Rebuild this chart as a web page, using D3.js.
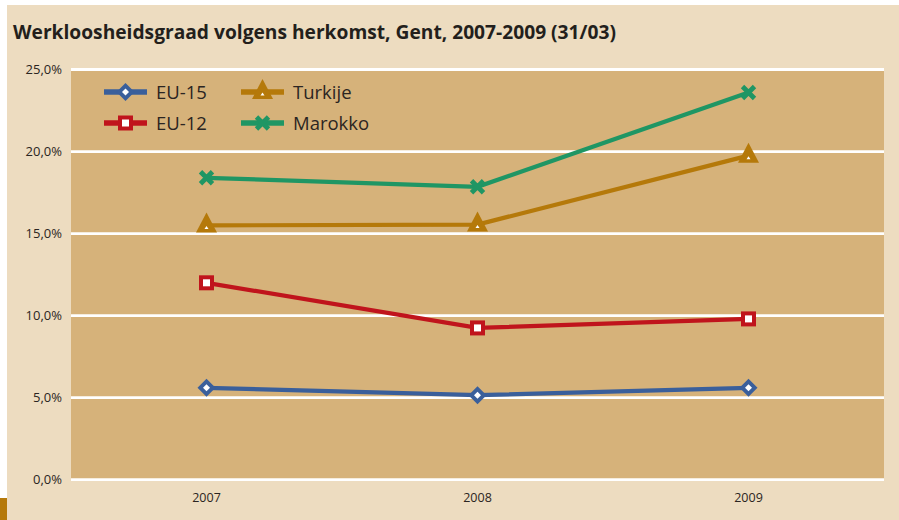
<!DOCTYPE html>
<html>
<head>
<meta charset="utf-8">
<script src="https://cdn.jsdelivr.net/npm/d3@7"></script>
<style>
  html, body { margin: 0; padding: 0; background: #fff; }
  svg { display: block; }
  text { font-family: "Open Sans", "Noto Sans", sans-serif; fill: #2b2522; }
</style>
</head>
<body>
<svg id="chart" width="899" height="520"></svg>
<script>
// ── Data ──────────────────────────────────────────────────────────────────
const years = ['2007', '2008', '2009'];
const eu15 = [5.6, 5.15, 5.6];
const eu12 = [12.0, 9.25, 9.8];
const turkije = [15.5, 15.55, 19.75];
const marokko = [18.4, 17.85, 23.6];
const yTicks = [0, 5, 10, 15, 20, 25];
const title = 'Werkloosheidsgraad volgens herkomst, Gent, 2007-2009 (31/03)';

const series = [
  { name: 'EU-15', values: eu15, color: '#3a5f9b', marker: 'diamond' },
  { name: 'EU-12', values: eu12, color: '#c0141c', marker: 'square' },
  { name: 'Turkije', values: turkije, color: '#b5790a', marker: 'triangle' },
  { name: 'Marokko', values: marokko, color: '#1f9664', marker: 'cross' }
];

const svg = d3.select('#chart');
const W = 899, H = 520;
const plot = { left: 71, right: 884, top: 69.5, bottom: 479.7 };

// background
svg.append('rect').attr('x', 7).attr('y', 5).attr('width', W - 7).attr('height', H - 5)
  .attr('fill', '#eddcc0');
svg.append('rect').attr('x', 0).attr('y', 498).attr('width', 7).attr('height', 22)
  .attr('fill', '#b5790a');

svg.append('text')
  .attr('x', 13).attr('y', 39)
  .style('font-size', '19.2px').style('font-weight', 700)
  .style('fill', '#231f1c')
  .text(title);

const x = d3.scaleBand().domain(years).range([plot.left, plot.right]);
const y = d3.scaleLinear().domain([0, 25]).range([plot.bottom, plot.top]);

svg.append('rect')
  .attr('x', plot.left).attr('y', plot.top)
  .attr('width', plot.right - plot.left).attr('height', plot.bottom - plot.top)
  .attr('fill', '#d6b27a');

// gridlines
svg.append('g').selectAll('line').data(yTicks).join('line')
  .attr('x1', plot.left).attr('x2', plot.right)
  .attr('y1', d => y(d)).attr('y2', d => y(d))
  .attr('stroke', '#fff').attr('stroke-width', 2.8);

// y axis labels
const yAxis = d3.axisLeft(y).tickValues(yTicks).tickSize(0).tickPadding(9)
  .tickFormat(d => d3.format('.1f')(d).replace('.', ',') + '%');
svg.append('g').attr('transform', `translate(${plot.left},0)`).call(yAxis)
  .call(g => g.select('.domain').remove())
  .selectAll('text')
  .style('font-size', '13px').style('font-family', '"Open Sans", sans-serif')
  .attr('fill', '#2b2522');

// x axis labels
const xAxis = d3.axisBottom(x).tickSize(0).tickPadding(13);
svg.append('g').attr('transform', `translate(0,${plot.bottom})`).call(xAxis)
  .call(g => g.select('.domain').remove())
  .selectAll('text')
  .style('font-size', '12.5px').style('font-family', '"Open Sans", sans-serif')
  .attr('fill', '#2b2522');

// ── Markers ───────────────────────────────────────────────────────────────
function drawMarker(g, type, color) {
  if (type === 'diamond') {
    g.append('path').attr('d', 'M0,-9L9,0L0,9L-9,0Z').attr('fill', color);
    g.append('path').attr('d', 'M0,-3.5L3.5,0L0,3.5L-3.5,0Z').attr('fill', '#fff');
  } else if (type === 'square') {
    g.append('rect').attr('x', -7.5).attr('y', -7.5).attr('width', 15).attr('height', 15).attr('fill', color);
    g.append('rect').attr('x', -3.5).attr('y', -3.5).attr('width', 7).attr('height', 7).attr('fill', '#fff');
  } else if (type === 'triangle') {
    g.append('path').attr('d', 'M0,-13L10.5,7L-10.5,7Z').attr('fill', color);
    g.append('path').attr('d', 'M0,0.5L2,3.5L-2,3.5Z').attr('fill', '#fff');
  } else if (type === 'cross') {
    g.append('path').attr('d', 'M-6,-6L6,6M-6,6L6,-6')
      .attr('stroke', color).attr('stroke-width', 4.8).attr('fill', 'none');
  }
}

const line = d3.line()
  .x((d, i) => x(years[i]) + x.bandwidth() / 2)
  .y(d => y(d));

series.forEach(s => {
  const g = svg.append('g');
  g.append('path')
    .attr('d', line(s.values))
    .attr('fill', 'none')
    .attr('stroke', s.color)
    .attr('stroke-width', 4.2);
  s.values.forEach((v, i) => {
    const m = g.append('g')
      .attr('transform', `translate(${x(years[i]) + x.bandwidth() / 2},${y(v)})`);
    drawMarker(m, s.marker, s.color);
  });
});

// ── Legend ────────────────────────────────────────────────────────────────
const legendPos = [
  { lx: 104, ly: 92 }, { lx: 104, ly: 123 },
  { lx: 241, ly: 92 }, { lx: 241, ly: 123 }
];
series.forEach((s, i) => {
  const p = legendPos[i];
  const g = svg.append('g').attr('transform', `translate(${p.lx},${p.ly})`);
  g.append('line').attr('x1', 0).attr('x2', 43).attr('y1', 0).attr('y2', 0)
    .attr('stroke', s.color).attr('stroke-width', 5.5);
  const m = g.append('g').attr('transform', 'translate(21.5,0)');
  drawMarker(m, s.marker, s.color);
  g.append('text').attr('x', 52).attr('y', 6.5)
    .style('font-size', '18.5px')
    .text(s.name);
});
</script>
</body>
</html>
